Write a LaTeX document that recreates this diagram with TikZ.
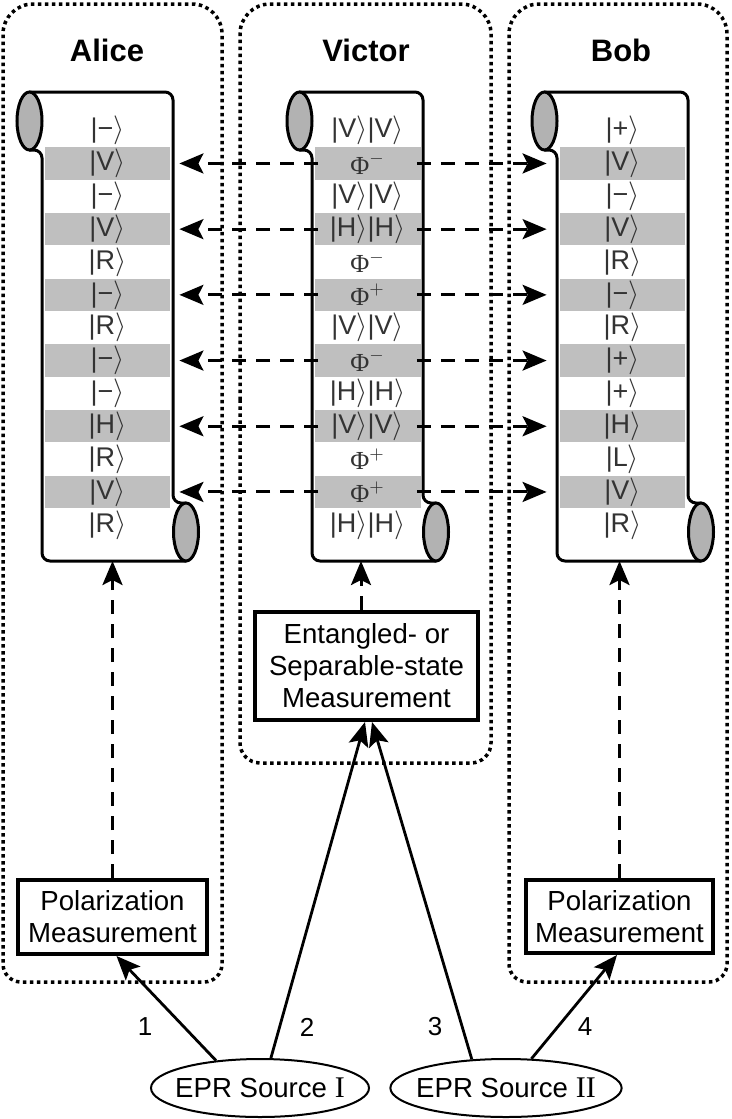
\documentclass[tikz,border=0pt]{standalone}
\usepackage{fontspec}
\setmainfont{Liberation Sans}
\newfontfamily\serifnt{Liberation Serif}
\usetikzlibrary{arrows.meta,positioning,shapes.geometric}
\newcommand\ket[1]{\textbar#1$\rangle$}
\newcommand\phim{{\serifnt\fontsize{13}{14}\selectfont Φ}$^{-}$}
\newcommand\phip{{\serifnt\fontsize{13}{14}\selectfont Φ}$^{+}$}

\begin{document}
\begin{tikzpicture}[
  x=0.5pt, y=-0.5pt,
  font=\fontsize{13}{16}\selectfont,
  dotbox/.style={line width=1.75pt, dash pattern=on 1.75pt off 1.75pt},
  paper/.style={draw, line width=1.5pt, fill=white, line join=round},
  roll/.style={draw, line width=1.5pt, fill=black!30},
  row/.style={minimum height=16.2pt, inner sep=0pt, text=black!80, font=\fontsize{13.5}{15}\selectfont},
  meas/.style={draw, line width=2pt, align=center, inner sep=0pt, font=\fontsize{13.8}{16}\selectfont},
  src/.style={draw, ellipse, line width=1pt, minimum width=109pt, minimum height=29pt, inner xsep=-4pt, inner ysep=0pt, font=\fontsize{13.8}{16}\selectfont},
  who/.style={font=\fontsize{15.5}{18}\selectfont\bfseries},
  num/.style={font=\fontsize{13}{16}\selectfont},
  link/.style={-{Stealth[length=12pt, width=10pt, inset=2.5pt]}, line width=1.5pt, dash pattern=on 7pt off 5pt},
  feed/.style={-{Stealth[length=12pt, width=10pt, inset=2.5pt]}, line width=1.4pt},
]
\useasboundingbox (0,0) rectangle (732,1119);

% party frames
\draw[dotbox] (3,500) [rounded corners=15pt] -- (3,4) -- (222,4) -- (222,500) [rounded corners=9pt] -- (222,982) -- (3,982) -- (3,500);
\draw[dotbox] (240,400) [rounded corners=15pt] -- (240,4) -- (491,4) -- (491,400) [rounded corners=10pt] -- (491,763) -- (240,763) -- (240,400);
\draw[dotbox] (509,500) [rounded corners=15pt] -- (509,4) -- (727,4) -- (727,500) [rounded corners=9pt] -- (727,982) -- (509,982) -- (509,500);

\node[who] (alice) at (107,50) {Alice};
\node[who] (victor) at (366,50) {Victor};
\node[who] (bob) at (621,50) {Bob};

% scrolls
\foreach \l/\r in {42/173, 312/423, 557/688} {
  \filldraw[paper] (\l-12.5,92) [rounded corners=4pt] -- (\r,92) -- (\r,503) [sharp corners] -- (\r+13,503) -- (\r+13,561) [rounded corners=4pt] -- (\l,561) -- (\l,150) [sharp corners] -- (\l-12.5,150) -- cycle;
  \filldraw[roll] (\l-12.5,121) ellipse [x radius=6.25pt, y radius=14.5pt];
  \filldraw[roll] (\r+13,532) ellipse [x radius=6.25pt, y radius=14.5pt];
}

\foreach \t [count=\i from 0] in {\ket{−}, \ket{V}, \ket{−}, \ket{V}, \ket{R}, \ket{−}, \ket{R}, \ket{−}, \ket{−}, \ket{H}, \ket{R}, \ket{V}, \ket{R}} {
  \ifodd\i\def\f{black!25}\else\def\f{none}\fi
  \node[row, fill=\f, minimum width=62.5pt] (a\i) at (107.5,{130.6+32.85*\i}) {\t};
}
\foreach \t [count=\i from 0] in {\ket{V}\ket{V}, \phim, \ket{V}\ket{V}, \ket{H}\ket{H}, \phim, \phip, \ket{V}\ket{V}, \phim, \ket{H}\ket{H}, \ket{V}\ket{V}, \phip, \phip, \ket{H}\ket{H}} {
  \ifodd\i\def\f{black!25}\else\def\f{none}\fi
  \node[row, fill=\f, minimum width=53pt] (v\i) at (367.5,{130.6+32.85*\i}) {\t};
}
\foreach \t [count=\i from 0] in {\ket{+}, \ket{V}, \ket{−}, \ket{V}, \ket{R}, \ket{−}, \ket{R}, \ket{+}, \ket{+}, \ket{H}, \ket{L}, \ket{V}, \ket{R}} {
  \ifodd\i\def\f{black!25}\else\def\f{none}\fi
  \node[row, fill=\f, minimum width=62.5pt] (b\i) at (622.5,{130.6+32.85*\i}) {\t};
}

\foreach \i in {1,3,...,11} {
  \draw[link, shorten <=-2pt, shorten >=4.5pt] (v\i.west) -- (a\i.east);
  \draw[link, shorten <=-2pt, shorten >=6.5pt] (v\i.east) -- (b\i.west);
}

% measurements
\coordinate (aend) at (112.5,561);
\coordinate (vend) at (361,561);
\coordinate (bend) at (619.5,561);
\node[meas, minimum width=94.5pt, minimum height=37pt] (apol) at (112.5,917) {Polarization\\Measurement};
\node[meas, minimum width=93.5pt, minimum height=36.5pt] (bpol) at (619.5,916.5) {Polarization\\Measurement};
\node[meas, minimum width=111.5pt, minimum height=54pt] (vmeas) at (366.5,666) {Entangled- or\\Separable-state\\Measurement};
\draw[link] (apol.north) -- (aend);
\draw[link] ([xshift=-2.75pt]vmeas.north) -- (vend);
\draw[link] (bpol.north) -- (bend);

% sources
\node[src] (epr1) at (260,1088) {EPR Source {\serifnt\fontsize{15}{16}\selectfont I}};
\node[src] (epr2) at (506,1088) {EPR Source {\serifnt\fontsize{15}{16}\selectfont II}};
\draw[feed] (epr1.148) -- ([xshift=2pt]apol.south);
\draw[feed] (epr1.70) -- ([xshift=-0.75pt]vmeas.south);
\draw[feed] (epr2.140) -- ([xshift=2.75pt]vmeas.south);
\draw[feed] (epr2.49) -- ([xshift=-1.25pt]bpol.south);
\node[num] (n1) at (145,1027) {1};
\node[num] (n2) at (307,1027) {2};
\node[num] (n3) at (435,1027) {3};
\node[num] (n4) at (585,1027) {4};
\end{tikzpicture}
\end{document}
